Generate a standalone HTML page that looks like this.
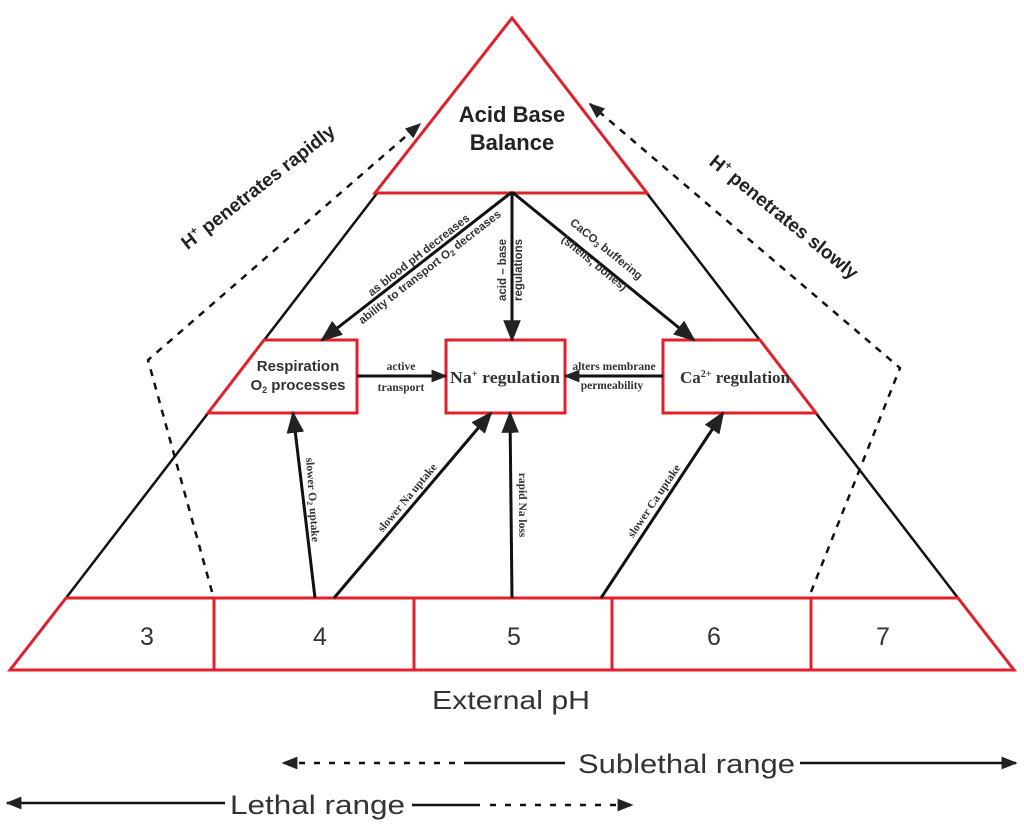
<!DOCTYPE html>
<html><head><meta charset="utf-8"><style>
html,body{margin:0;padding:0;background:#fff;}
svg{display:block;}
</style></head><body>
<svg width="1024" height="825" viewBox="0 0 1024 825" xmlns="http://www.w3.org/2000/svg" font-family="Liberation Sans, sans-serif">
<defs>
<marker id="b" viewBox="0 0 10 10" refX="9" refY="5" markerWidth="22" markerHeight="22" orient="auto" markerUnits="userSpaceOnUse"><path d="M0,1 L10,5 L0,9 z" fill="#222"/></marker>
<marker id="c" viewBox="0 0 10 10" refX="9" refY="5" markerWidth="16" markerHeight="16" orient="auto" markerUnits="userSpaceOnUse"><path d="M0,1 L10,5 L0,9 z" fill="#222"/></marker>
</defs>
<line x1="378" y1="192" x2="66" y2="598" stroke="#111" stroke-width="2.5"/>
<line x1="646" y1="192" x2="958" y2="598" stroke="#111" stroke-width="2.5"/>
<polygon points="512,18 375,193 647,193" fill="none" stroke="#e0202a" stroke-width="3"/>
<text x="512" y="122" text-anchor="middle" font-size="22" font-weight="bold" fill="#222">Acid Base</text>
<text x="512" y="150" text-anchor="middle" font-size="22" font-weight="bold" fill="#222">Balance</text>
<polygon points="66,598 958,598 1014,670 10,670" fill="none" stroke="#e0202a" stroke-width="3"/>
<g stroke="#e0202a" stroke-width="3"><line x1="214" y1="598" x2="214" y2="670"/><line x1="414" y1="598" x2="414" y2="670"/><line x1="612" y1="598" x2="612" y2="670"/><line x1="811" y1="598" x2="811" y2="670"/></g>
<g font-size="25" fill="#333" text-anchor="middle"><text x="147" y="645">3</text><text x="320" y="645">4</text><text x="514" y="645">5</text><text x="714" y="645">6</text><text x="883" y="645">7</text></g>
<text x="432" y="709" font-size="26" fill="#333" textLength="158" lengthAdjust="spacingAndGlyphs">External pH</text>
<polygon points="264,340 357,340 357,413 208,413" fill="#fff" stroke="#e0202a" stroke-width="3"/>
<rect x="446" y="340" width="119" height="73" fill="#fff" stroke="#e0202a" stroke-width="3"/>
<polygon points="663,340 760,340 816,413 663,413" fill="#fff" stroke="#e0202a" stroke-width="3"/>
<text x="298" y="371" text-anchor="middle" font-size="15" font-weight="bold" fill="#333">Respiration</text>
<text x="298" y="390" text-anchor="middle" font-size="15" font-weight="bold" fill="#333">O<tspan font-size="9" dy="3">2</tspan><tspan dy="-3"> processes</tspan></text>
<text x="505" y="383" text-anchor="middle" font-size="17" font-weight="bold" font-family="Liberation Serif, serif" fill="#333" textLength="110" lengthAdjust="spacingAndGlyphs">Na<tspan font-size="10" dy="-6">+</tspan><tspan dy="6"> regulation</tspan></text>
<text x="735" y="383" text-anchor="middle" font-size="17" font-weight="bold" font-family="Liberation Serif, serif" fill="#333">Ca<tspan font-size="10" dy="-6">2+</tspan><tspan dy="6"> regulation</tspan></text>
<g stroke="#111" stroke-width="3" fill="none">
<line x1="512" y1="192" x2="322" y2="340" marker-end="url(#b)"/>
<line x1="512" y1="192" x2="512" y2="340" marker-end="url(#b)"/>
<line x1="512" y1="192" x2="694" y2="340" marker-end="url(#b)"/>
<line x1="357" y1="376" x2="446" y2="376" marker-end="url(#c)"/>
<line x1="663" y1="376" x2="565" y2="376" marker-end="url(#c)"/>
<line x1="315" y1="598" x2="293" y2="413" marker-end="url(#b)"/>
<line x1="334" y1="598" x2="491" y2="413" marker-end="url(#b)"/>
<line x1="512" y1="598" x2="510" y2="413" marker-end="url(#b)"/>
<line x1="601" y1="598" x2="723" y2="413" marker-end="url(#b)"/>
</g>
<g font-size="11.5" font-weight="bold" fill="#333" text-anchor="middle">
<text transform="translate(421,258) rotate(-38)">as blood pH decreases</text>
<text transform="translate(432,270) rotate(-38)">ability to transport O<tspan font-size="8" dy="2">2</tspan><tspan dy="-2"> decreases</tspan></text>
<text transform="translate(506,270) rotate(-90)">acid – base</text>
<text transform="translate(522,270) rotate(-90)">regulations</text>
<text transform="translate(604,252) rotate(39)">CaCO<tspan font-size="8" dy="2">3</tspan><tspan dy="-2"> buffering</tspan></text>
<text transform="translate(592,266) rotate(39)">(shells, bones)</text>
</g>
<g font-size="11.5" font-weight="bold" fill="#333" font-family="Liberation Serif, serif" text-anchor="middle">
<text x="401" y="370">active</text><text x="401" y="391">transport</text>
<text x="614" y="370">alters membrane</text><text x="612" y="389">permeability</text>
<text transform="translate(309,500) rotate(86)">slower O<tspan font-size="8" dy="2">2</tspan><tspan dy="-2"> uptake</tspan></text>
<text transform="translate(410,500) rotate(-50)">slower Na uptake</text>
<text transform="translate(519,505) rotate(90)">rapid Na loss</text>
<text transform="translate(657,503) rotate(-56)">slower Ca uptake</text>
</g>
<g stroke="#111" stroke-width="2.5" fill="none" stroke-dasharray="7,7">
<polyline points="212,592 148,360 420,124" marker-end="url(#c)"/>
<polyline points="811,592 900,368 590,104" marker-end="url(#c)"/>
</g>
<g font-size="19" font-weight="bold" fill="#222">
<text transform="translate(262,192) rotate(-38)" text-anchor="middle">H<tspan font-size="11" dy="-8">+</tspan><tspan dy="8"> penetrates rapidly</tspan></text>
<text transform="translate(780,222) rotate(39)" text-anchor="middle">H<tspan font-size="11" dy="-8">+</tspan><tspan dy="8"> penetrates slowly</tspan></text>
</g>
<g stroke="#111" stroke-width="2.5" fill="none">
<line x1="470" y1="763" x2="283" y2="763" stroke-dasharray="6,9" marker-end="url(#c)"/>
<line x1="470" y1="763" x2="565" y2="763"/>
<line x1="800" y1="763" x2="1016" y2="763" marker-end="url(#c)"/>
<line x1="225" y1="803" x2="7" y2="803" marker-end="url(#c)"/>
<line x1="412" y1="805" x2="480" y2="805"/>
<line x1="490" y1="805" x2="632" y2="805" stroke-dasharray="6,9" marker-end="url(#c)"/>
</g>
<text x="578" y="773" font-size="27" fill="#333" textLength="217" lengthAdjust="spacingAndGlyphs">Sublethal range</text>
<text x="230" y="814" font-size="27" fill="#333" textLength="175" lengthAdjust="spacingAndGlyphs">Lethal range</text>
</svg>
</body></html>
